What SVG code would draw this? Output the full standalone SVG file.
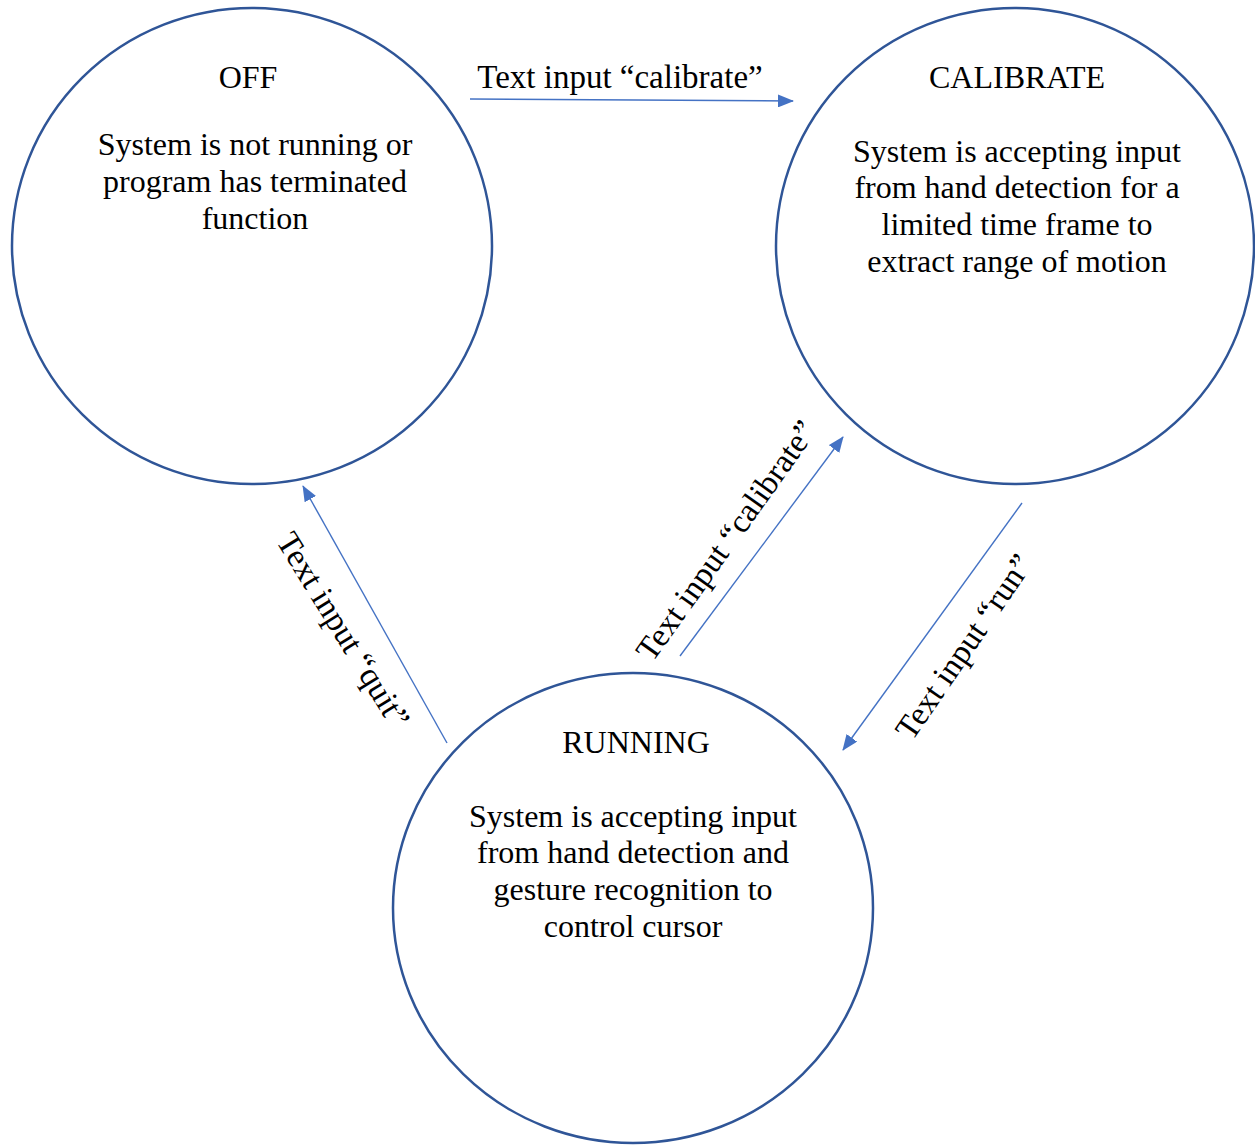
<svg xmlns="http://www.w3.org/2000/svg" width="1255" height="1145" viewBox="0 0 1255 1145">
<style>
.st{fill:#fff;stroke:#2F5597;stroke-width:2.5}
.t{font-family:"Liberation Serif","Times New Roman",serif;font-size:32px;fill:#000;text-anchor:middle}
.l{font-size:33px}
.c{stroke:#4472C4;stroke-width:1.4;fill:none;marker-end:url(#ah)}
</style>
<defs>
<marker id="ah" markerWidth="16" markerHeight="13" refX="15" refY="6.5" orient="auto" markerUnits="userSpaceOnUse">
<path d="M0,0 L16,6.5 L0,13 Z" fill="#4472C4"/>
</marker>
</defs>
<rect width="1255" height="1145" fill="#fff"/>
<g id="off">
<ellipse class="st" cx="252" cy="246" rx="240" ry="238"/>
<text class="t" x="248" y="88">OFF</text>
<text class="t" x="255" y="155">System is not running or</text>
<text class="t" x="255" y="192">program has terminated</text>
<text class="t" x="255" y="229">function</text>
</g>
<g id="calibrate">
<ellipse class="st" cx="1015" cy="246" rx="239" ry="238"/>
<text class="t" x="1017" y="88">CALIBRATE</text>
<text class="t" x="1017" y="162">System is accepting input</text>
<text class="t" x="1017" y="198">from hand detection for a</text>
<text class="t" x="1017" y="235">limited time frame to</text>
<text class="t" x="1017" y="272">extract range of motion</text>
</g>
<g id="running">
<ellipse class="st" cx="633" cy="908" rx="240" ry="235"/>
<text class="t" x="636" y="753">RUNNING</text>
<text class="t" x="633" y="827">System is accepting input</text>
<text class="t" x="633" y="863">from hand detection and</text>
<text class="t" x="633" y="900">gesture recognition to</text>
<text class="t" x="633" y="937">control cursor</text>
</g>
<g id="connectors">
<line class="c" x1="470" y1="99" x2="793" y2="101"/>
<text class="t l" x="620" y="88">Text input “calibrate”</text>
<line class="c" x1="680" y1="656" x2="843" y2="437"/>
<text class="t l" transform="translate(735,547) rotate(-54.6)">Text input “calibrate”</text>
<line class="c" x1="447" y1="743" x2="303" y2="486"/>
<text class="t l" transform="translate(334,636) rotate(58.4)">Text input “quit”</text>
<line class="c" x1="1022" y1="503" x2="843" y2="750"/>
<text class="t l" transform="translate(973,653) rotate(-55.6)">Text input “run”</text>
</g>
</svg>
